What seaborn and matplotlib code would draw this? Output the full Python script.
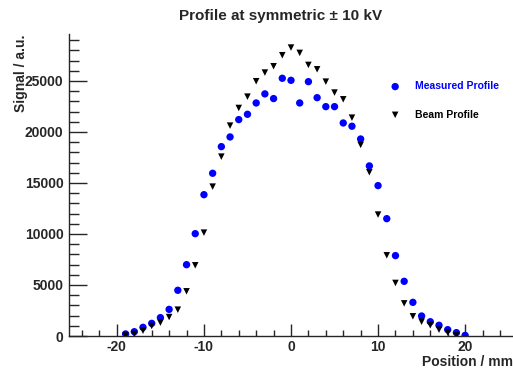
import numpy as np
import pandas as pd
import matplotlib
matplotlib.use("Agg")
import matplotlib.pyplot as plt
from matplotlib.ticker import MultipleLocator
import seaborn as sns

# measured profile (blue dots)
pos_measured = list(range(-19, 21))
sig_measured = [200, 420, 850, 1240, 1800, 2610, 4480, 6990, 10030, 13850,
                15950, 18560, 19510, 21210, 21730, 22840, 23730, 23270, 25260, 25060,
                22840, 24930, 23360, 22480, 22480, 20880, 20560, 19310, 16670, 14740,
                11500, 7880, 5360, 3300, 1960, 1400, 1050, 620, 330, 60]

# beam profile (black triangles)
pos_beam = list(range(-19, 20))
sig_beam = [50, 200, 520, 980, 1310, 1860, 2580, 4380, 6930, 10130,
            14640, 17580, 20620, 22350, 23460, 24970, 25820, 26440, 27520, 28270,
            27750, 26570, 26140, 24930, 23860, 23200, 21400, 18730, 16050, 11900,
            7910, 5200, 3200, 1930, 1400, 1050, 620, 330, 60]

df_m = pd.DataFrame({"pos": pos_measured, "signal": sig_measured})
df_b = pd.DataFrame({"pos": pos_beam, "signal": sig_beam})

sns.set_style("ticks")
plt.rcParams['font.family'] = ['Liberation Sans', 'DejaVu Sans']
plt.rcParams['font.weight'] = 'bold'
plt.rcParams['axes.unicode_minus'] = False

fig = plt.figure(figsize=(5.13, 3.69), dpi=100)
W, H = 513, 369
ax = fig.add_axes([69 / W, (H - 336) / H, (513 - 69) / W, (336 - 34) / H])

sns.scatterplot(data=df_m, x="pos", y="signal", ax=ax, color="#0000ff", marker="o",
                s=28, edgecolor="none", label="Measured Profile")
sns.scatterplot(data=df_b, x="pos", y="signal", ax=ax, color="black", marker="v",
                s=22, edgecolor="none", label="Beam Profile")

ax.set_xlim(-25.5, 25.5)
ax.set_ylim(0, 29600)
ax.xaxis.set_major_locator(MultipleLocator(10))
ax.xaxis.set_minor_locator(MultipleLocator(2))
ax.yaxis.set_major_locator(MultipleLocator(5000))
ax.yaxis.set_minor_locator(MultipleLocator(1000))
ax.tick_params(axis="x", which="major", direction="in", length=9, width=1, labelsize=10, pad=3)
ax.tick_params(axis="x", which="minor", direction="in", length=4.5, width=1)
ax.tick_params(axis="y", which="major", direction="in", length=13, width=1, labelsize=10, pad=4)
ax.tick_params(axis="y", which="minor", direction="in", length=7, width=1)
for lab in ax.get_xticklabels() + ax.get_yticklabels():
    lab.set_fontweight("bold")

sns.despine(ax=ax)
ax.spines["left"].set_linewidth(1)
ax.spines["bottom"].set_linewidth(1)

ax.set_xlabel("Position / mm", loc="right", fontsize=10, fontweight="bold")
ax.set_ylabel("Signal / a.u.", loc="top", fontsize=10, fontweight="bold")
ax.xaxis.set_label_coords(1.0, -19 / 302)
ax.xaxis.label.set_va("top")
ax.yaxis.set_label_coords(-0.092, 1.0)

fig.text(281 / W, 1 - 16 / H, "Profile at symmetric \u00b1 10 kV", ha="center", va="center",
         fontsize=11, fontweight="bold")

leg = ax.legend(loc="center left", bbox_to_anchor=(0.69, 0.78), frameon=False,
                labelspacing=1.75, handletextpad=0.9,
                labelcolor=["#0000ff", "black"], prop={"weight": "bold", "size": 7.5})

fig.savefig("out.png", dpi=100)
